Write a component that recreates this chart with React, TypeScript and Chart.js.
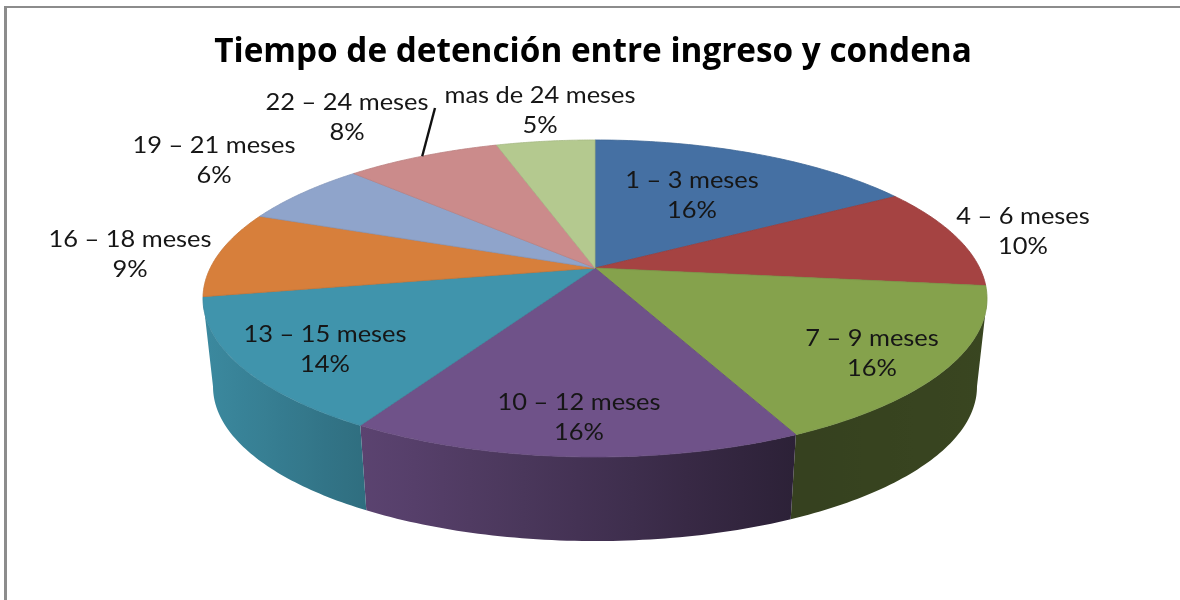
import React, { useEffect, useRef } from "react";
import { Chart, registerables } from "chart.js";

Chart.register(...registerables);

const TITLE = "Tiempo de detención entre ingreso y condena";
const categories = [
  "1 – 3 meses", "4 – 6 meses", "7 – 9 meses", "10 – 12 meses", "13 – 15 meses",
  "16 – 18 meses", "19 – 21 meses", "22 – 24 meses", "mas de 24 meses",
];
const shares = [16.4, 10.4, 16.1, 15.6, 13.6, 8.8, 6.49, 7.71, 4.9];
const topColors = [
  "#4570a3", "#a54342", "#85a24c", "#6f5289", "#4094ac",
  "#d77f3b", "#8fa4cb", "#cb8b8b", "#b4c98f",
];

// label placement (centre of the two text lines), as hand-placed in the original
const labelCentres: [number, number][] = [
  [692, 195], [1023, 231], [872, 353], [579, 417], [325, 349],
  [130, 254], [214, 160], [347, 117], [540, 110],
];

// projection of the tilted disc
const CX = 595, APEX_Y = 268, A = 384.7, B = 101.1, C = -0.1924;
const VANISH_Y = 3740, DEPTH_SCALE = 0.9744;

const project = (theta: number, rho = 1) => {
  const X = rho * Math.sin(theta);
  const Y = -rho * Math.cos(theta);
  const d = 1 + C * Y;
  return { x: CX + (A * X) / d, y: (B * Y + APEX_Y) / d };
};
const lower = (p: { x: number; y: number }) => ({
  x: CX + (p.x - CX) * DEPTH_SCALE,
  y: VANISH_Y + (p.y - VANISH_Y) * DEPTH_SCALE,
});

const SHADE: [number, number][] = [
  [200, 0.93], [365, 0.74], [366, 0.82], [795, 0.4], [990, 0.43],
];
const shadeAt = (x: number) => {
  for (let i = 1; i < SHADE.length; i++) {
    if (x <= SHADE[i][0]) {
      const [x0, s0] = SHADE[i - 1];
      const [x1, s1] = SHADE[i];
      return s0 + ((s1 - s0) * (x - x0)) / (x1 - x0);
    }
  }
  return SHADE[SHADE.length - 1][1];
};
const shaded = (hex: string, s: number) => {
  const n = parseInt(hex.slice(1), 16);
  const r = Math.round(((n >> 16) & 255) * s);
  const g = Math.round(((n >> 8) & 255) * s);
  const b = Math.round((n & 255) * s);
  return `rgb(${r},${g},${b})`;
};

const arcPoints = (a0: number, a1: number) => {
  const STEPS = 60;
  const pts = [];
  for (let i = 0; i <= STEPS; i++) pts.push(project(a0 + ((a1 - a0) * i) / STEPS));
  return pts;
};

const disc3d = {
  id: "disc3d",
  beforeDatasetsDraw(chart: any) {
    const ctx: CanvasRenderingContext2D = chart.ctx;
    const arcs = chart.getDatasetMeta(0).data;
    // the wall is only seen between the two silhouette angles of the disc
    const wallFrom = Math.acos(C);
    const wallTo = 2 * Math.PI - wallFrom;

    arcs.forEach((el: any, i: number) => {
      const a0 = Math.max(el.startAngle + Math.PI / 2, wallFrom);
      const a1 = Math.min(el.endAngle + Math.PI / 2, wallTo);
      if (a0 >= a1) return;
      const ring = arcPoints(a0, a1);
      const low = ring.map(lower);
      const xs = ring.concat(low).map((p) => p.x);
      const x0 = Math.min(...xs), x1 = Math.max(...xs);
      const grad = ctx.createLinearGradient(x0, 0, x1, 0);
      for (let k = 0; k <= 8; k++) {
        const x = x0 + ((x1 - x0) * k) / 8;
        const sx = i === 4 ? Math.min(x, 365) : Math.max(x, i === 3 ? 366 : 0);
        grad.addColorStop(k / 8, shaded(topColors[i], shadeAt(sx)));
      }
      ctx.beginPath();
      ring.forEach((p, k) => (k ? ctx.lineTo(p.x, p.y) : ctx.moveTo(p.x, p.y)));
      low.reverse().forEach((p) => ctx.lineTo(p.x, p.y));
      ctx.closePath();
      ctx.fillStyle = grad;
      ctx.fill();
    });

    arcs.forEach((el: any, i: number) => {
      const ring = arcPoints(el.startAngle + Math.PI / 2, el.endAngle + Math.PI / 2);
      ctx.beginPath();
      ctx.moveTo(CX, APEX_Y);
      ring.forEach((p) => ctx.lineTo(p.x, p.y));
      ctx.closePath();
      ctx.fillStyle = topColors[i];
      ctx.fill();
      ctx.strokeStyle = shaded(topColors[i], 0.92);
      ctx.lineWidth = 0.8;
      ctx.stroke();
    });
    return false;
  },
  afterDraw(chart: any) {
    const ctx: CanvasRenderingContext2D = chart.ctx;
    ctx.save();
    // leader line of the "22 – 24 meses" label
    const mid = chart.getDatasetMeta(0).data[7];
    const tip = project((mid.startAngle + mid.endAngle) / 2 + Math.PI / 2);
    ctx.beginPath();
    ctx.moveTo(435, 108);
    ctx.lineTo(tip.x, tip.y);
    ctx.strokeStyle = "#111";
    ctx.lineWidth = 2.4;
    ctx.stroke();

    ctx.font = "24px Lato";
    ctx.fillStyle = "#161616";
    ctx.textAlign = "center";
    ctx.textBaseline = "middle";
    const stretch = 163 / ctx.measureText(categories[5]).width;
    categories.forEach((name, i) => {
      const [x, y] = labelCentres[i];
      const lines = [name, `${Math.round(shares[i])}%`];
      lines.forEach((t, k) => {
        ctx.save();
        ctx.translate(x, y - 15 + k * 30);
        ctx.scale(stretch, 1);
        ctx.fillText(t, 0, 0);
        ctx.restore();
      });
    });
    ctx.restore();
  },
};

export default function App() {
  const ref = useRef<HTMLCanvasElement>(null);
  useEffect(() => {
    const chart = new Chart(ref.current!, {
      type: "pie",
      data: {
        labels: categories,
        datasets: [{ data: shares, backgroundColor: topColors, borderWidth: 0 }],
      },
      options: {
        responsive: false,
        animation: false,
        events: [],
        layout: { padding: { left: 6 } },
        plugins: {
          legend: { display: false },
          tooltip: { enabled: false },
          title: {
            display: true,
            text: TITLE,
            color: "#000",
            fullSize: false,
            padding: { top: 33, bottom: 10 },
            font: { family: "'Open Sans'", size: 33.3, weight: "bold" },
          },
        },
      },
      plugins: [disc3d],
    } as any);
    return () => chart.destroy();
  }, []);
  return (
    <div style={{ position: "fixed", left: 0, top: 0, width: 1180, height: 600, background: "#fff" }}>
      <canvas ref={ref} width={1180} height={600} style={{ display: "block" }} />
      <div
        style={{
          position: "absolute",
          left: 4,
          top: 6,
          right: 0,
          bottom: 0,
          borderLeft: "3px solid #8c8c8c",
          borderTop: "2px solid #8c8c8c",
        }}
      />
    </div>
  );
}
